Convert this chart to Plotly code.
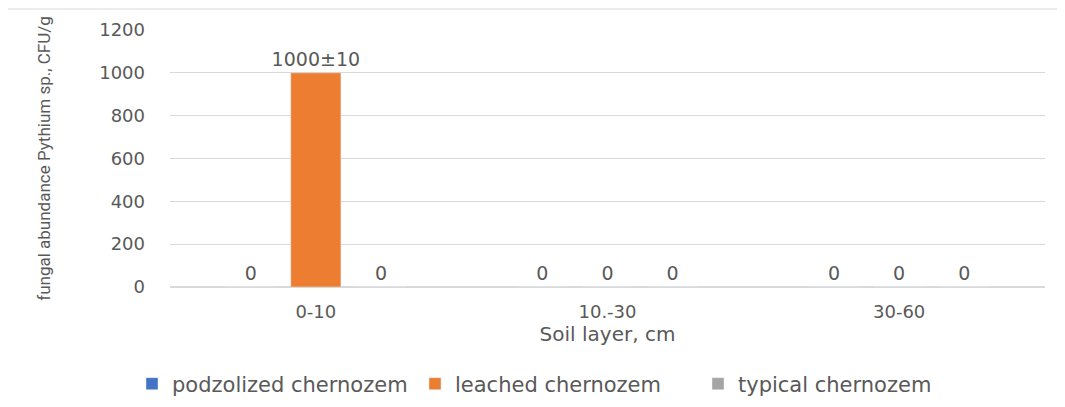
import plotly.graph_objects as go

categories = ["0-10", "10.-30", "30-60"]
series_names = ["podzolized chernozem", "leached chernozem", "typical chernozem"]
podzolized = [0, 0, 0]
leached = [1000, 0, 0]
typical = [0, 0, 0]
podzolized_labels = ["0", "0", "0"]
leached_labels = ["1000±10", "0", "0"]
typical_labels = ["0", "0", "0"]
colors = ["#4472C4", "#ED7D31", "#A5A5A5"]

TXT = "#595959"
FONT = "DejaVu Sans, Verdana, sans-serif"

fig = go.Figure()
for name, vals, labels, col in zip(series_names, [podzolized, leached, typical],
                                   [podzolized_labels, leached_labels, typical_labels], colors):
    fig.add_trace(go.Bar(
        x=categories, y=vals, name=name, marker_color=col,
        text=labels, textposition="outside", cliponaxis=False, constraintext="none",
        textfont=dict(family=FONT, size=19, color=TXT),
    ))

# page body adds an 8px offset; margins compensate for it
fig.update_layout(
    width=1065, height=407,
    margin=dict(l=162, r=28, t=22, b=128, autoexpand=False),
    paper_bgcolor="white", plot_bgcolor="white",
    barmode="group", bargap=0.33, bargroupgap=0.23,
    showlegend=True,
    legend=dict(orientation="h", xref="container", yref="container",
                x=124 / 1065, xanchor="left", y=(407 - 376) / 407, yanchor="middle",
                font=dict(family=FONT, size=21, color=TXT), itemwidth=30,
                entrywidth=238, traceorder="normal"),
    font=dict(family=FONT, color=TXT),
    shapes=[dict(type="rect", xref="paper", yref="paper",
                 x0=(7 - 170) / 875, x1=(1075 - 170) / 875,
                 y0=(287 - 420) / 257, y1=(287 - 9) / 257,
                 line=dict(color="#D9D9D9", width=1), layer="below")],
)
fig.update_yaxes(range=[0, 1200], dtick=200, showgrid=True, gridcolor="#D9D9D9",
                 zeroline=True, zerolinecolor="#D9D9D9", showline=False, automargin=False,
                 tickfont=dict(family=FONT, size=18, color=TXT), ticklabelstandoff=24,
                 title=dict(text="fungal abundance Pythium sp., CFU/g",
                            font=dict(family="Roboto, Open Sans, sans-serif", size=17, color=TXT),
                            standoff=44))
fig.update_xaxes(showgrid=False, showline=True, linecolor="#D9D9D9", automargin=False,
                 tickfont=dict(family=FONT, size=18, color=TXT), ticklabelstandoff=8,
                 title=dict(text="Soil layer, cm", font=dict(family=FONT, size=20, color=TXT), standoff=6))

fig.write_html("out.html")
